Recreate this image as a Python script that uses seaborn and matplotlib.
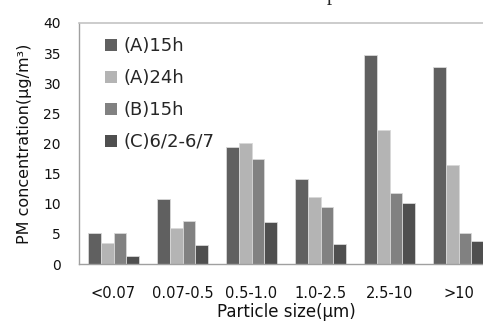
import matplotlib
matplotlib.use("Agg")
import matplotlib.pyplot as plt
import seaborn as sns
import pandas as pd
from matplotlib.ticker import FixedLocator, MultipleLocator

categories = ["<0.07", "0.07-0.5", "0.5-1.0", "1.0-2.5", "2.5-10", ">10"]
series_names = ["(A)15h", "(A)24h", "(B)15h", "(C)6/2-6/7"]
a15 = [5.2, 10.8, 19.5, 14.1, 34.7, 32.7]
a24 = [3.5, 6.0, 20.1, 11.1, 22.3, 16.5]
b15 = [5.1, 7.2, 17.5, 9.5, 11.8, 5.2]
c67 = [1.4, 3.2, 7.0, 3.3, 10.1, 3.9]
colors = ["#606060", "#b4b4b4", "#818181", "#4f4f4f"]

rows = []
for name, vals in zip(series_names, [a15, a24, b15, c67]):
    for cat, v in zip(categories, vals):
        rows.append({"size": cat, "value": v, "series": name})
df = pd.DataFrame(rows)

sns.set_style("white")
plt.rcParams["font.family"] = ["DejaVu Sans"]

fig = plt.figure(figsize=(4.83, 3.22), dpi=100)
ax = fig.add_axes([79/483, 58/322, 414/483, 241/322])

sns.barplot(data=df, x="size", y="value", hue="series", order=categories,
            hue_order=series_names, palette=colors, width=0.725,
            edgecolor="#d8d8d8", linewidth=0.6, ax=ax, saturation=1)

ax.set_xlim(-0.5, 5.5)
ax.set_ylim(0, 40)
ax.yaxis.set_major_locator(MultipleLocator(5))
ax.tick_params(axis="y", direction="in", length=4, width=0.8, color="#a0a0a0",
               pad=13, labelsize=10, labelcolor="#111111")
ax.tick_params(axis="x", which="major", length=0, pad=15.5, labelsize=10.5,
               labelcolor="#111111")
ax.xaxis.set_minor_locator(FixedLocator([0.5, 1.5, 2.5, 3.5, 4.5]))
ax.tick_params(axis="x", which="minor", direction="in", length=4, width=0.8,
               color="#a0a0a0")

for s in ["left", "bottom"]:
    ax.spines[s].set_color("#a0a0a0")
    ax.spines[s].set_linewidth(1.0)
ax.spines["top"].set_color("#c4c4c4")
ax.spines["top"].set_linewidth(1.2)
ax.spines["right"].set_visible(False)

ax.set_xlabel("Particle size(μm)", fontsize=12, labelpad=2, color="#111111")
ax.set_ylabel("PM concentration(μg/m³)", fontsize=11.5, labelpad=8, color="#111111")

ax.legend(loc="upper left", bbox_to_anchor=(26/414, 0.940), frameon=False,
          fontsize=13, handlelength=0.67, handleheight=0.67, handletextpad=0.35,
          labelspacing=0.77, borderpad=0, borderaxespad=0)
for h in ax.get_legend().legend_handles:
    h.set_edgecolor("none")

fig.text(332/483, 1.0, "p", family="Liberation Serif", fontsize=15,
         ha="center", va="baseline")

fig.savefig("out.png", dpi=100)
